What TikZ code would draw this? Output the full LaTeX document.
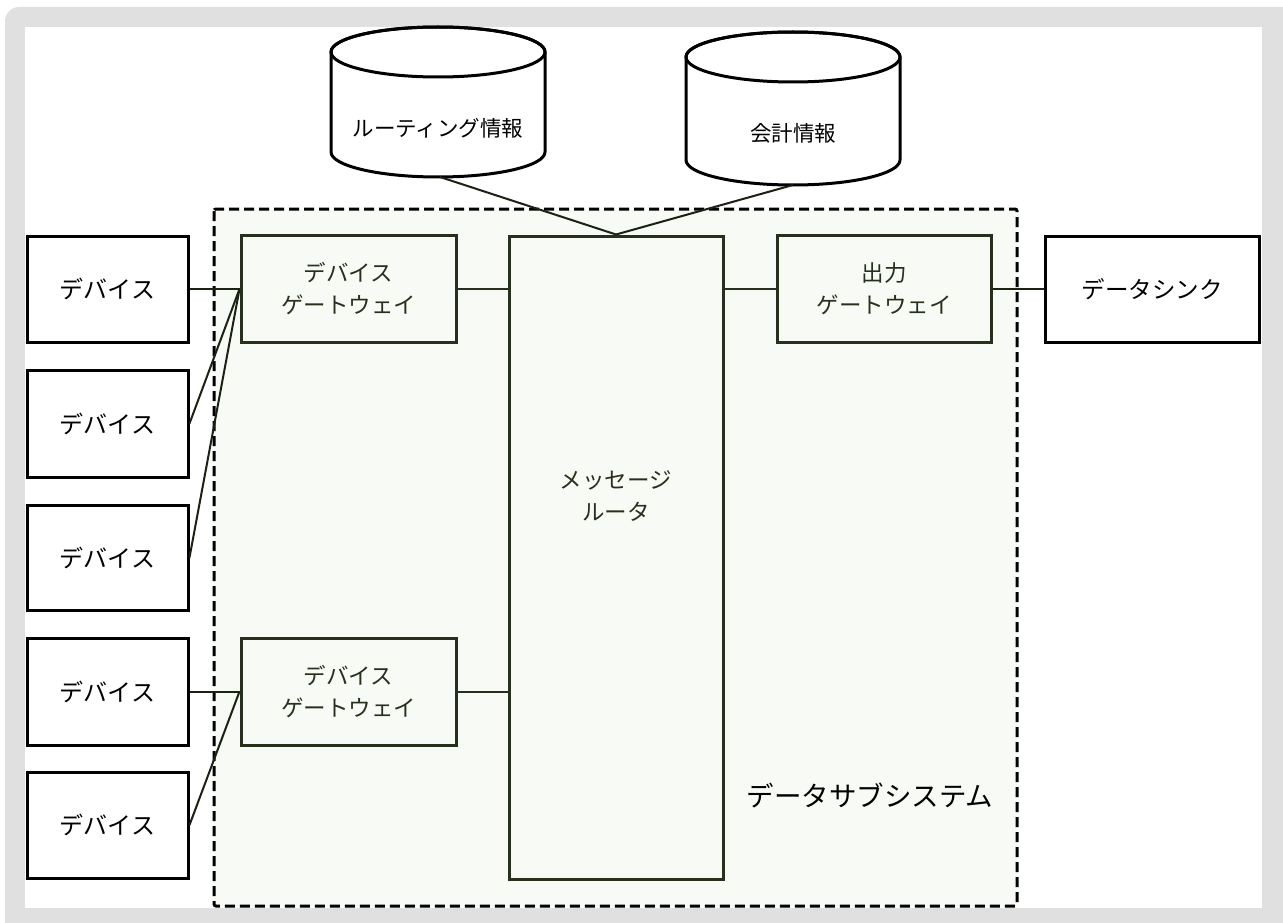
\documentclass[tikz,border=0pt]{standalone}
\usepackage{fontspec}
\setmainfont{Noto Sans CJK JP}
\definecolor{framegray}{HTML}{E0E0E0}
\definecolor{subfill}{HTML}{F8FAF5}
\definecolor{darkgreen}{HTML}{26301C}
\definecolor{linecol}{HTML}{1A2212}
\begin{document}
\begin{tikzpicture}[x=1pt,y=-1pt,
  devbox/.style={draw=black, line width=3pt, fill=white, minimum width=161pt, minimum height=106pt, inner sep=0pt, font=\fontsize{24}{30}\selectfont, text=black},
  gwbox/.style={draw=darkgreen, line width=3pt, fill=subfill, minimum width=215pt, minimum height=107pt, inner sep=0pt, align=center, font=\fontsize{22.5}{32}\selectfont, text=darkgreen},
  sinkbox/.style={draw=black, line width=3pt, fill=white, minimum width=214pt, minimum height=106pt, inner sep=0pt, font=\fontsize{23.5}{30}\selectfont, text=black},
  cylpath/.style={draw=black, line width=3pt, fill=white},
  cyllabel/.style={inner sep=0pt, font=\fontsize{21.5}{26}\selectfont, text=black},
  conn/.style={draw=linecol, line width=2pt},
  subsys/.style={draw=black, line width=3pt, dash pattern=on 10pt off 5pt, fill=subfill, rounded corners=2pt}
]
\useasboundingbox (0,0) rectangle (1283,923);
% frame
\fill[white] (0,0) rectangle (1283,923);
\fill[framegray, rounded corners=14pt] (5,7) rectangle (1310,950);
\fill[white] (25,27) rectangle (1262,908);

% subsystem
\draw[subsys] (214,209) rectangle (1017,906);
\node[inner sep=0pt, font=\fontsize{27.5}{32}\selectfont, text=black] (sublabel) at (870,795) {データサブシステム};

% cylinders
\path[cylpath] (331,52) -- (331,152) arc[start angle=180, end angle=360, x radius=107pt, y radius=25pt] -- (545,52) arc[start angle=0, end angle=180, x radius=107pt, y radius=25pt] -- cycle;
\draw[line width=3pt] (438,52) ellipse [x radius=107pt, y radius=25pt];
\node[cyllabel] (cyl1) at (438,128) {ルーティング情報};
\coordinate (cyl1b) at (440,177);

\path[cylpath] (686,57) -- (686,160) arc[start angle=180, end angle=360, x radius=107pt, y radius=25pt] -- (900,57) arc[start angle=0, end angle=180, x radius=107pt, y radius=25pt] -- cycle;
\draw[line width=3pt] (793,57) ellipse [x radius=107pt, y radius=25pt];
\node[cyllabel] (cyl2) at (793,133) {会計情報};
\coordinate (cyl2b) at (793,185);

% boxes
\node[devbox] (dev1) at (107.5,289) {デバイス};
\node[devbox, minimum height=107pt] (dev2) at (107.5,423.5) {デバイス};
\node[devbox, minimum height=105pt] (dev3) at (107.5,557.5) {デバイス};
\node[devbox, minimum height=107pt] (dev4) at (107.5,691.5) {デバイス};
\node[devbox] (dev5) at (107.5,825) {デバイス};

\node[gwbox] (gw1) at (348.5,289) {デバイス\\ゲートウェイ};
\node[gwbox] (gw2) at (348.5,691.5) {デバイス\\ゲートウェイ};
\node[gwbox, minimum width=214pt, minimum height=643pt] (router) at (616,557.5) {};
\node[inner sep=0pt, align=center, font=\fontsize{22.5}{32}\selectfont, text=darkgreen] (rlabel) at (616,496) {メッセージ\\ルータ};
\node[gwbox, minimum width=214pt] (outgw) at (884,289) {出力\\ゲートウェイ};
\node[sinkbox] (sink) at (1152,289) {データシンク};

% connectors
\draw[conn] (dev1.east) -- (gw1.west);
\draw[conn] (dev2.east) -- (gw1.west);
\draw[conn] (dev3.east) -- (gw1.west);
\draw[conn] (dev4.east) -- (gw2.west);
\draw[conn] (dev5.east) -- (gw2.west);
\draw[conn, draw=darkgreen] (gw1.east) -- (router.west |- gw1.east);
\draw[conn, draw=darkgreen] (gw2.east) -- (router.west |- gw2.east);
\draw[conn, draw=darkgreen] (router.east |- outgw.west) -- (outgw.west);
\draw[conn] (outgw.east) -- (sink.west);
\draw[conn] (cyl1b) -- (router.north);
\draw[conn] (cyl2b) -- (router.north);
\end{tikzpicture}
\end{document}
